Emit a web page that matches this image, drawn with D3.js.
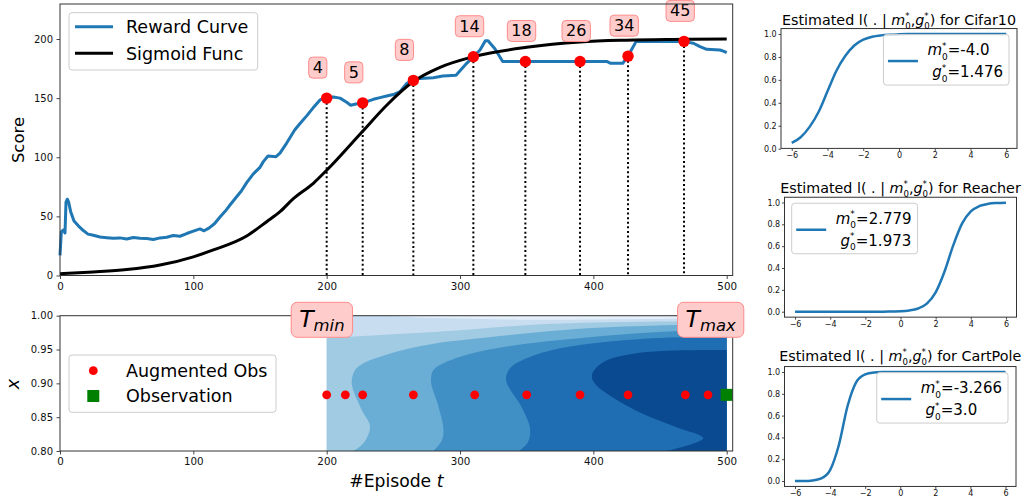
<!DOCTYPE html>
<html>
<head>
<meta charset="utf-8">
<script src="https://cdnjs.cloudflare.com/ajax/libs/d3/7.8.5/d3.min.js"></script>
<style>
  body { margin: 0; background: #fff; }
  svg { font-family: 'DejaVu Sans', sans-serif; }
</style>
</head>
<body>
<svg width="1026" height="497"></svg>
<script>
// ---- data ----
const rewardCurve = [
  [0, 17], [1, 37], [2.5, 38.5], [3.75, 36], [4.5, 62], [5.5, 64.5], [6.5, 62], [8, 54],
  [10.5, 46], [13.75, 42], [17.5, 38], [21, 35], [25, 34], [30, 32.5], [35, 32], [40, 31.5],
  [45, 31.8], [50, 30.8], [55, 32.2], [60, 31.5], [65, 31.2], [70, 30.5], [75, 31.8], [80, 32.3],
  [85, 33.8], [90, 33.2], [95, 35.5], [100, 37.5], [105, 39.4], [108, 37.8], [112, 40.3],
  [116, 44], [120, 49.5], [124, 54.5], [127.5, 59.6], [132, 66], [136, 71.5], [140, 78.5],
  [145, 86], [150, 91.5], [152.5, 96.3], [156, 101], [162, 100.5], [165, 103.5], [170, 112],
  [176, 123], [180, 128.5], [185, 135], [190, 142], [195, 148.5], [200, 150.5], [205, 151],
  [210, 150], [215, 146.5], [218, 144], [222, 145], [227, 146], [230, 147], [235, 149],
  [240, 150.4], [245, 151.8], [250, 153], [255, 155.5], [260, 162.5], [265, 165], [270, 166.7],
  [280, 167.3], [287, 168.7], [297, 169.3], [305, 179.4], [310, 185], [315, 190.7], [319, 198.6],
  [321, 198.6], [326, 192], [332, 181], [349, 181], [390, 181], [410, 181], [413, 179.4],
  [422, 179.4], [426, 185.6], [432, 197.8], [468, 197.8], [475, 196.4], [480, 193.5],
  [485, 191.3], [495, 190.7], [498, 189.5], [500, 188.5]
]
const sigmoidCurve = [
  [0, 1.5], [25, 3], [50, 5], [75, 8.8], [100, 15.8], [115, 21.6], [140, 33.4], [155, 45.5],
  [165, 54], [175, 65], [190, 78], [200, 89], [227, 122], [245, 144], [265, 164], [285, 176],
  [310, 185], [350, 193], [390, 197.5], [425, 199], [460, 199.6], [500, 199.9]
]
const pickEp = [200, 227, 265, 310, 349, 390, 426, 468]
const pickScore = [150, 146, 165, 185, 181, 181, 185.5, 198]
const pickLabels = ['4', '5', '8', '14', '18', '26', '34', '45']

const augEp = [200, 214, 227, 265, 311, 350, 390, 426, 469, 486]
const augX = 0.883
const obsEp = [500]
const obsX = 0.883

// contour bands (episode, x), lightest first
const bandColors = ['#e3eef9', '#a0cbe2', '#6aaed6', '#4090c5', '#1f6eb3', '#0a4a90']
const bandBase = '#c9ddf0'
const bands = [
  { pts: [[242, 1.0], [270, 0.9973], [315, 0.9951], [352, 0.9939], [405, 0.9944], [465, 0.9954], [500, 0.9962]],
    close: [[500, 1.0]] },
  { pts: [[200, 0.9666], [240, 0.9715], [295, 0.9778], [352, 0.9863], [399, 0.9899], [449, 0.9914], [500, 0.9922]],
    close: [[500, 0.8], [200, 0.8]] },
  { pts: [[220, 0.8], [227.5, 0.8114], [232.5, 0.8359], [226.3, 0.8606], [218.8, 0.9001], [221.3, 0.9197],
          [227.5, 0.9296], [240, 0.9394], [257.5, 0.9493], [282.5, 0.9592], [307.5, 0.9651], [352.5, 0.9745],
          [398.8, 0.9818], [448.7, 0.9855], [500, 0.9877]],
    close: [[500, 0.8]] },
  { pts: [[280, 0.8], [286.5, 0.8163], [287.5, 0.8336], [283.5, 0.868], [278.3, 0.902], [280, 0.9197],
          [287.5, 0.9296], [300, 0.9394], [320, 0.9493], [352.5, 0.9592], [398.8, 0.9685], [448.7, 0.9759],
          [500, 0.9803]],
    close: [[500, 0.8]] },
  { pts: [[344.5, 0.8], [351, 0.8133], [352.5, 0.8336], [346.5, 0.8636], [334.5, 0.905], [337.5, 0.9222],
          [350, 0.937], [375, 0.9518], [425, 0.9641], [475, 0.969], [500, 0.9704]],
    close: [[500, 0.8]] },
  { pts: [[455, 0.8], [482.5, 0.8188], [461.3, 0.8359], [436.3, 0.8557], [413.8, 0.8803], [402, 0.8976],
          [398.8, 0.9109], [403.5, 0.9256], [412.5, 0.936], [436.3, 0.9456], [461.3, 0.9486], [500, 0.9493]],
    close: [[500, 0.8]] }
]

// estimated l( . | m, g ) panels
const panelNames = ['Cifar10', 'Reacher', 'CartPole']
const panelM = ['-4.0', '2.779', '-3.266']
const panelG = ['1.476', '1.973', '3.0']
const panelXs = [-6, -5.5, -5, -4.5, -4, -3.5, -3, -2.5, -2, -1.5, -1, -0.5, 0, 0.5, 1, 1.5, 2, 2.5, 3, 3.5, 4, 4.5, 5, 5.5, 6]
const panelYs = [
  [0.05, 0.10, 0.19, 0.32, 0.50, 0.68, 0.81, 0.90, 0.95, 0.976, 0.988, 0.994, 0.997, 0.999, 1, 1, 1, 1, 1, 1, 1, 1, 1, 1, 1],
  [0, 0, 0, 0, 0, 0, 0, 0, 0, 0, 0, 0.002, 0.004, 0.011, 0.029, 0.074, 0.177, 0.366, 0.607, 0.806, 0.918, 0.968, 0.988, 0.995, 0.998],
  [0, 0, 0.005, 0.024, 0.10, 0.33, 0.69, 0.91, 0.978, 0.995, 0.999, 1, 1, 1, 1, 1, 1, 1, 1, 1, 1, 1, 1, 1, 1]
]

const epTicks = [0, 100, 200, 300, 400, 500]
const scoreTicks = [0, 50, 100, 150, 200]
const xTicks = [0.80, 0.85, 0.90, 0.95, 1.00]
const panelXTicks = [-6, -4, -2, 0, 2, 4, 6]
const panelYTicks = [0, 0.2, 0.4, 0.6, 0.8, 1.0]

// ---- drawing ----
const svg = d3.select('svg')

function styleAxis(g, fs) {
  g.attr('font-family', null).attr('font-size', null)
  g.select('.domain').remove()
  g.selectAll('line').attr('stroke', '#333').attr('stroke-width', 0.9)
  g.selectAll('text').attr('font-size', fs).attr('fill', '#111')
}

function frame(x, y) {
  svg.append('rect')
    .attr('x', x.range()[0]).attr('y', y.range()[1])
    .attr('width', x.range()[1] - x.range()[0]).attr('height', y.range()[0] - y.range()[1])
    .attr('fill', 'none').attr('stroke', '#333').attr('stroke-width', 1)
}

function measure(s, fs, it) {
  const t = svg.append('text').attr('font-size', fs).attr('font-style', it ? 'italic' : 'normal')
    .style('white-space', 'pre').text(s)
  const w = t.node().getComputedTextLength()
  t.remove()
  return w
}

// mathtext-like text: one <text>, tspans placed by hand (stacked sup/sub)
function rich(parent, x, y, tokens, fs, anchor) {
  const pieces = []
  let cx = 0
  for (const tk of tokens) {
    if (tk.s !== undefined) {
      pieces.push({ s: tk.s, x: cx, y: 0, fs: fs, it: tk.it })
      cx += measure(tk.s, fs, tk.it)
    } else {
      const sc = (tk.scale || 0.6) * fs
      let w = 0
      if (tk.sup) {
        pieces.push({ s: tk.sup, x: cx, y: -0.42 * fs, fs: sc })
        w = Math.max(w, measure(tk.sup, sc))
      }
      if (tk.sub) {
        pieces.push({ s: tk.sub, x: cx, y: tk.drop || 0.3 * fs, fs: sc, it: tk.it })
        w = Math.max(w, measure(tk.sub, sc, tk.it))
      }
      cx += w
    }
  }
  const off = anchor === 'middle' ? -cx / 2 : anchor === 'end' ? -cx : 0
  const g = parent.append('g').attr('transform', `translate(${x + off},${y})`)
  const text = g.append('text').style('white-space', 'pre')
  pieces.forEach(p => {
    text.append('tspan').attr('x', p.x).attr('y', p.y).attr('font-size', p.fs)
      .attr('font-style', p.it ? 'italic' : 'normal').text(p.s)
  })
  return { g, w: cx, x0: x + off }
}

// ===== top: reward curve =====
const xTop = d3.scaleLinear().domain([0, 504.5]).range([60, 732.7])
const yTop = d3.scaleLinear().domain([0, 229.6]).range([275.5, 4])

svg.append('g').attr('transform', `translate(0,${yTop.range()[0]})`)
  .call(d3.axisBottom(xTop).tickValues(epTicks).tickSize(3.5).tickPadding(3.5).tickSizeOuter(0))
  .call(g => styleAxis(g, 10.3))
svg.append('g').attr('transform', `translate(${xTop.range()[0]},0)`)
  .call(d3.axisLeft(yTop).tickValues(scoreTicks).tickSize(3.5).tickPadding(3.5).tickSizeOuter(0))
  .call(g => styleAxis(g, 10))

svg.append('text').attr('transform', 'translate(23.5,140) rotate(-90)')
  .attr('text-anchor', 'middle').attr('font-size', 16.5).text('Score')

svg.append('path').datum(rewardCurve)
  .attr('d', d3.line().x(d => xTop(d[0])).y(d => yTop(d[1])))
  .attr('fill', 'none').attr('stroke', '#1f77b4').attr('stroke-width', 3).attr('stroke-linejoin', 'round')

svg.append('path').datum(sigmoidCurve)
  .attr('d', d3.line().x(d => xTop(d[0])).y(d => yTop(d[1])).curve(d3.curveMonotoneX))
  .attr('fill', 'none').attr('stroke', '#000').attr('stroke-width', 3)

svg.append('g').selectAll('line').data(pickEp).join('line')
  .attr('x1', d => xTop(d)).attr('x2', d => xTop(d))
  .attr('y1', (d, i) => yTop(pickScore[i])).attr('y2', yTop(0))
  .attr('stroke', '#000').attr('stroke-width', 2).attr('stroke-dasharray', '2,2.6')

svg.append('g').selectAll('circle').data(pickEp).join('circle')
  .attr('cx', d => xTop(d)).attr('cy', (d, i) => yTop(pickScore[i])).attr('r', 5.7).attr('fill', '#ff0000')

pickEp.forEach((ep, i) => {
  const g = svg.append('g')
  const rect = g.append('rect')
  const tx = xTop(ep) - 14
  const ty = yTop(pickScore[i]) - 25
  const t = g.append('text').attr('x', tx).attr('y', ty).attr('font-size', 16).text(pickLabels[i])
  const w = t.node().getComputedTextLength()
  rect.attr('x', tx - 4).attr('y', ty - 16).attr('width', w + 8).attr('height', 21).attr('rx', 4)
    .attr('fill', '#ffcccc').attr('stroke', '#ff8a8a').attr('stroke-width', 1)
})

// legend
const lg = svg.append('g')
lg.append('rect').attr('x', 69).attr('y', 12.7).attr('width', 188.7).attr('height', 57.3).attr('rx', 3)
  .attr('fill', '#fff').attr('fill-opacity', 0.8).attr('stroke', '#ccc')
;[['Reward Curve', '#1f77b4', 26.7], ['Sigmoid Func', '#000', 53.3]].forEach(([name, c, yy]) => {
  lg.append('line').attr('x1', 75).attr('x2', 113).attr('y1', yy).attr('y2', yy)
    .attr('stroke', c).attr('stroke-width', 3)
  lg.append('text').attr('x', 126).attr('y', yy + 6.3).attr('font-size', 17.5).text(name)
})
frame(xTop, yTop)

// ===== bottom: augmented observations =====
const xBot = d3.scaleLinear().domain([0, 504.5]).range([60, 732.7])
const yBot = d3.scaleLinear().domain([0.8, 1.0]).range([451, 315.7])

svg.append('rect').attr('x', xBot(200)).attr('y', yBot(1)).attr('width', xBot(500) - xBot(200))
  .attr('height', yBot(0.8) - yBot(1)).attr('fill', bandBase)

const bandLine = d3.line().x(d => xBot(d[0])).y(d => yBot(d[1])).curve(d3.curveCatmullRom.alpha(0.5))
svg.append('g').selectAll('path').data(bands).join('path')
  .attr('d', b => bandLine(b.pts) + b.close.map(c => `L${xBot(c[0])},${yBot(c[1])}`).join('') + 'Z')
  .attr('fill', (b, i) => bandColors[i])

svg.append('g').selectAll('circle').data(augEp).join('circle')
  .attr('cx', d => xBot(d)).attr('cy', yBot(augX)).attr('r', 4.4).attr('fill', '#ff0000')
svg.append('g').selectAll('rect').data(obsEp).join('rect')
  .attr('x', d => xBot(d) - 6).attr('y', yBot(obsX) - 6).attr('width', 12).attr('height', 12).attr('fill', '#008000')

svg.append('g').attr('transform', `translate(0,${yBot.range()[0]})`)
  .call(d3.axisBottom(xBot).tickValues(epTicks).tickSize(3.5).tickPadding(3.5).tickSizeOuter(0))
  .call(g => styleAxis(g, 10.3))
svg.append('g').attr('transform', `translate(${xBot.range()[0]},0)`)
  .call(d3.axisLeft(yBot).tickValues(xTicks).tickFormat(d3.format('.2f')).tickSize(3.5).tickPadding(3.5).tickSizeOuter(0))
  .call(g => styleAxis(g, 10))
frame(xBot, yBot)

svg.append('text').attr('transform', 'translate(18.5,384) rotate(-90)')
  .attr('text-anchor', 'middle').attr('font-size', 17.5).attr('font-style', 'italic').text('x')
rich(svg, (xBot.range()[0] + xBot.range()[1]) / 2, 487, [{ s: '#Episode ' }, { s: 't', it: 1 }], 17.2, 'middle')

// bottom legend
const lb = svg.append('g')
lb.append('rect').attr('x', 69).attr('y', 355).attr('width', 207).attr('height', 57.3).attr('rx', 3)
  .attr('fill', '#fff').attr('fill-opacity', 0.8).attr('stroke', '#ccc')
lb.append('circle').attr('cx', 93.3).attr('cy', 370.7).attr('r', 4.4).attr('fill', '#ff0000')
lb.append('rect').attr('x', 87.3).attr('y', 390).attr('width', 12).attr('height', 12).attr('fill', '#008000')
lb.append('text').attr('x', 126).attr('y', 377).attr('font-size', 17.5).text('Augmented Obs')
lb.append('text').attr('x', 126).attr('y', 402.3).attr('font-size', 17.5).text('Observation')

// T_min / T_max boxes
;[[196.4, 'min'], [488, 'max']].forEach(([ep, sub]) => {
  const g = svg.append('g')
  const rect = g.append('rect')
  const r = rich(g, xBot(ep), 326.7, [{ s: 'T', it: 1 }, { sub: sub, it: 1, drop: 4, scale: 0.7 }], 23.5, 'middle')
  rect.attr('x', r.x0 - 8).attr('y', 302.3).attr('width', r.w + 16).attr('height', 35).attr('rx', 6)
    .attr('fill', '#ffcccc').attr('stroke', '#ff8a8a').attr('stroke-width', 1)
})

// ===== right panels =====
const panelLayout = [
  { l: 781, r: 1017, t: 28.55, b: 148.4, title: 25, legendRight: true },
  { l: 784.5, r: 1016.5, t: 197.25, b: 317.15, title: 192.7, legendRight: false },
  { l: 784.5, r: 1016, t: 366.55, b: 486.45, title: 360.7, legendRight: true }
]

panelNames.forEach((name, i) => {
  const L = panelLayout[i]
  const ys = panelYs[i]
  const ext = d3.extent(ys)
  const pad = (ext[1] - ext[0]) * 0.05
  const x = d3.scaleLinear().domain([-6.6, 6.6]).range([L.l, L.r])
  const y = d3.scaleLinear().domain([ext[0] - pad, ext[1] + pad]).range([L.b, L.t])

  svg.append('g').attr('transform', `translate(0,${L.b})`)
    .call(d3.axisBottom(x).tickValues(panelXTicks).tickSize(2.5).tickPadding(1.8).tickSizeOuter(0))
    .call(g => styleAxis(g, 8))
  svg.append('g').attr('transform', `translate(${L.l},0)`)
    .call(d3.axisLeft(y).tickValues(panelYTicks).tickFormat(d3.format('.1f')).tickSize(2.5).tickPadding(1.8).tickSizeOuter(0))
    .call(g => styleAxis(g, 8))

  svg.append('path').datum(panelXs.map((v, k) => [v, ys[k]]))
    .attr('d', d3.line().x(d => x(d[0])).y(d => y(d[1])).curve(d3.curveMonotoneX))
    .attr('fill', 'none').attr('stroke', '#1f77b4').attr('stroke-width', 2.5)
  frame(x, y)

  rich(svg, (L.l + L.r) / 2, L.title, [
    { s: 'Estimated l( . | ' }, { s: 'm', it: 1 }, { sup: '*', sub: '0' }, { s: ',' },
    { s: 'g', it: 1 }, { sup: '*', sub: '0' }, { s: ') for ' + name }
  ], 14.3, 'middle')

  // legend
  const g = svg.append('g')
  const rect = g.append('rect')
  const top = L.t + 6
  const l1 = rich(g, 0, 0, [{ s: 'm', it: 1 }, { sup: '*', sub: '0' }, { s: '=' + panelM[i] }], 15, 'start')
  const l2 = rich(g, 0, 0, [{ s: ' ' }, { s: 'g', it: 1 }, { sup: '*', sub: '0' }, { s: '=' + panelG[i] }], 15, 'start')
  const bw = 44 + Math.max(l1.w, l2.w) + 6
  const bx = L.legendRight ? L.r - 8 - bw : L.l + 7.2
  l1.g.attr('transform', `translate(${bx + 44},${top + 20.5})`)
  l2.g.attr('transform', `translate(${bx + 44},${top + 42.5})`)
  rect.attr('x', bx).attr('y', top).attr('width', bw).attr('height', 50.5).attr('rx', 3)
    .attr('fill', '#fff').attr('fill-opacity', 0.8).attr('stroke', '#ccc')
  g.append('line').attr('x1', bx + 4.5).attr('x2', bx + 34.5).attr('y1', top + 26.5).attr('y2', top + 26.5)
    .attr('stroke', '#1f77b4').attr('stroke-width', 2.5)
})
</script>
</body>
</html>
